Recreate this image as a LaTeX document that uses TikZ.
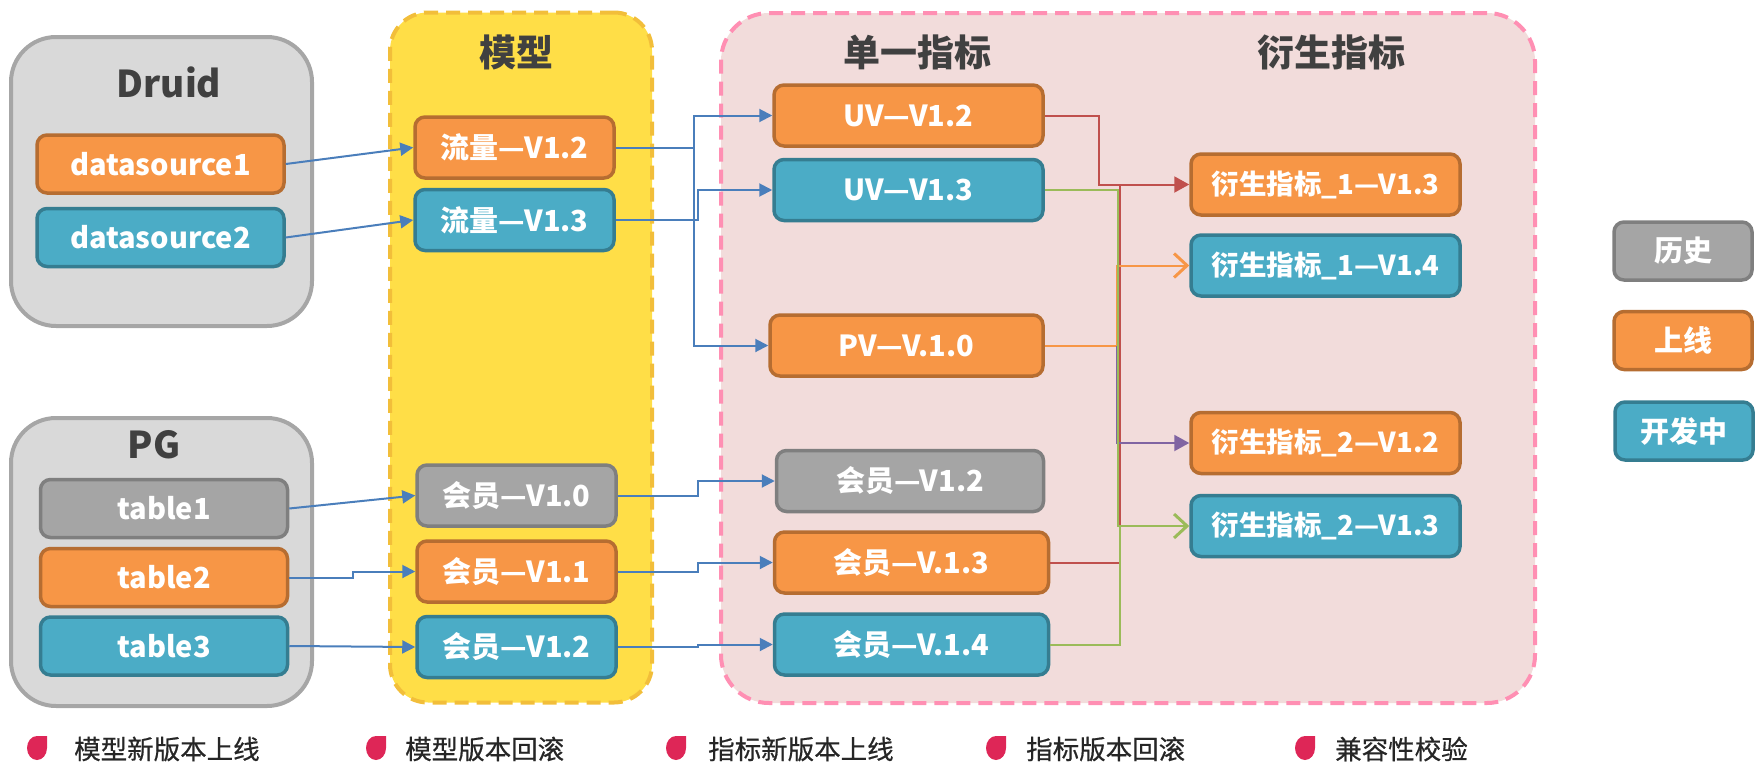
\documentclass[tikz,border=0pt]{standalone}
\usepackage{fontspec}
\setmainfont{Noto Sans CJK SC}
\newfontfamily\legfont{Noto Sans CJK SC}[FakeBold=0.6]
\usetikzlibrary{arrows.meta}
\definecolor{ofill}{HTML}{F79646}
\definecolor{oline}{HTML}{B66D31}
\definecolor{bfill}{HTML}{4BACC6}
\definecolor{bline}{HTML}{357D91}
\definecolor{gfill}{HTML}{A5A5A5}
\definecolor{gline}{HTML}{7F7F7F}
\definecolor{cfill}{HTML}{D9D9D9}
\definecolor{cline}{HTML}{A6A6A6}
\definecolor{yfill}{HTML}{FFDE47}
\definecolor{yline}{HTML}{F2BE3A}
\definecolor{pfill}{HTML}{F2DCDB}
\definecolor{pline}{HTML}{FF8FB3}
\definecolor{titlec}{HTML}{404040}
\definecolor{conblue}{HTML}{4A7EBB}
\definecolor{conred}{HTML}{C0504D}
\definecolor{congreen}{HTML}{9BBB59}
\definecolor{conorange}{HTML}{F79646}
\definecolor{conpurple}{HTML}{8064A2}
\definecolor{bulletc}{HTML}{DE2657}
\definecolor{legtext}{HTML}{262626}
\begin{document}
\begin{tikzpicture}[x=1pt,y=-1pt,
  box/.style={rounded corners=10pt, line width=3.5pt, text=white, inner sep=0pt,
    font=\fontsize{29}{31}\selectfont\bfseries},
  ob/.style={box, fill=ofill, draw=oline},
  bb/.style={box, fill=bfill, draw=bline},
  gb/.style={box, fill=gfill, draw=gline},
  srcsz/.style={minimum width=247pt, minimum height=58pt},
  modsz/.style={minimum width=199pt, minimum height=61pt},
  idxsz/.style={minimum width=269pt, minimum height=61pt},
  dersz/.style={minimum width=269pt, minimum height=61pt, font=\fontsize{27.5}{30}\selectfont\bfseries},
  legsz/.style={minimum width=138pt, minimum height=58pt},
  grp/.style={rounded corners=45pt, line width=4pt, fill=cfill, draw=cline},
  dgrp/.style={line width=4pt, dash pattern=on 14pt off 8pt},
  ttl/.style={text=titlec, font=\fontsize{37}{40}\selectfont\bfseries, inner sep=0pt},
  leg/.style={text=legtext, anchor=west, inner sep=0pt, font=\legfont\fontsize{26.5}{28}\selectfont},
  con/.style={line width=2pt},
  blue/.style={con, draw=conblue, -{Triangle[length=13pt,width=13pt]}},
  redc/.style={con, draw=conred},
  greenc/.style={con, draw=congreen},
  orangec/.style={con, draw=conorange},
  purplec/.style={con, draw=conpurple},
  filledtip/.style={-{Triangle[length=15pt,width=16pt]}},
  opentip/.style={-{Straight Barb[length=13pt,width=24pt,line width=3pt]}},
]
\useasboundingbox (0,0) rectangle (1756,763);

% containers
\node[grp, minimum width=301pt, minimum height=289pt] (druid) at (161.5,181.5) {};
\node[grp, minimum width=301pt, minimum height=288pt] (pg) at (161.5,562) {};
\node[dgrp, rounded corners=38pt, fill=yfill, draw=yline, minimum width=262pt, minimum height=690pt] (model) at (521,357.5) {};
\node[dgrp, rounded corners=48pt, fill=pfill, draw=pline, minimum width=814pt, minimum height=690pt] (metric) at (1128,358) {};

% titles
\node[ttl] (tdruid) at (169,82) {Druid};
\node[ttl] (tpg) at (154,445) {PG};
\node[ttl] (tmodel) at (516,52) {模型};
\node[ttl] (tsingle) at (917,52) {单一指标};
\node[ttl] (tderived) at (1331,52) {衍生指标};

% sources
\node[ob, srcsz] (ds1) at (160.5,164) {datasource1};
\node[bb, srcsz] (ds2) at (160.5,237.5) {datasource2};
\node[gb, srcsz] (t1) at (164,508.5) {table1};
\node[ob, srcsz] (t2) at (164,577.5) {table2};
\node[bb, srcsz] (t3) at (164,646) {table3};

% models
\node[ob, modsz] (lz12) at (514.5,147.5) {流量—V1.2};
\node[bb, modsz] (lz13) at (514.5,220) {流量—V1.3};
\node[gb, modsz] (hy10) at (516.5,495.5) {会员—V1.0};
\node[ob, modsz] (hy11) at (516.5,571.5) {会员—V1.1};
\node[bb, modsz] (hy12) at (516.5,647) {会员—V1.2};

% single metrics
\node[ob, idxsz] (uv12) at (908.5,115.5) {UV—V1.2};
\node[bb, idxsz] (uv13) at (908.5,190) {UV—V1.3};
\node[ob, idxsz, minimum width=273pt] (pv) at (906.5,345.5) {PV—V.1.0};
\node[gb, idxsz, minimum width=267pt] (hv12) at (910,481) {会员—V1.2};
\node[ob, idxsz, minimum width=274pt] (hv13) at (911.5,562.5) {会员—V.1.3};
\node[bb, idxsz, minimum width=274pt] (hv14) at (911.5,644.5) {会员—V.1.4};

% derived metrics
\node[ob, box, dersz] (d13) at (1325.5,184.5) {衍生指标\_1—V1.3};
\node[bb, box, dersz] (d14) at (1325.5,265.5) {衍生指标\_1—V1.4};
\node[ob, box, dersz] (d22) at (1325.5,443) {衍生指标\_2—V1.2};
\node[bb, box, dersz] (d23) at (1325.5,526) {衍生指标\_2—V1.3};

% status legend
\node[gb, legsz] (lhist) at (1683,251) {历史};
\node[ob, legsz] (lonline) at (1683,340.5) {上线};
\node[bb, legsz] (ldev) at (1684,431) {开发中};

% blue connectors
\draw[blue] (ds1.east) -- (lz12.west);
\draw[blue] (ds2.east) -- (lz13.west);
\draw[blue] (t1.east) -- (hy10.west);
\draw[blue] (t2.east) -- ++(64,0) |- (hy11.west);
\draw[blue] (t3.east) -- (hy12.west);
\draw[con, draw=conblue] (lz12.east) -- ++(78,0) coordinate (j1);
\draw[blue] (j1) |- (uv12.west);
\draw[blue] (j1) |- (pv.west);
\draw[blue] (lz13.east) -- ++(82,0) |- (uv13.west);
\draw[blue] (hy10.east) -- ++(80,0) |- (hv12.west);
\draw[blue] (hy11.east) -- ++(80,0) |- (hv13.west);
\draw[blue] (hy12.east) -- ++(80,0) |- (hv14.west);

% coloured connectors
\coordinate (rj) at (1120,184.5);
\coordinate (gj) at (1120,526);
\coordinate (pj) at (1117,345.5);
\draw[redc, filledtip] (uv12.east) -- ++(54,0) |- (d13.west);
\draw[redc] (hv13.east) -| (rj);
\draw[orangec] (pv.east) -- (pj);
\draw[purplec, filledtip] (pj) |- (d22.west);
\draw[orangec, opentip] (pj) |- (d14.west);
\draw[greenc, opentip] (uv13.east) -- ++(73,0) |- (d23.west);
\draw[greenc] (hv14.east) -| (gj);

% bottom legend
\foreach \bx/\tx/\lab/\nm in {37/74/模型新版本上线/a, 376/405/模型版本回滚/b, 676/708/指标新版本上线/c, 996/1026/指标版本回滚/d, 1305/1335/兼容性校验/e}{
  \fill[bulletc] (\bx,736) -- (\bx+10,736) -- (\bx+10,748) arc[start angle=0,end angle=270,x radius=10,y radius=12] -- cycle;
  \node[leg] (leg\nm) at (\tx,749) {\lab};
}
\end{tikzpicture}
\end{document}
